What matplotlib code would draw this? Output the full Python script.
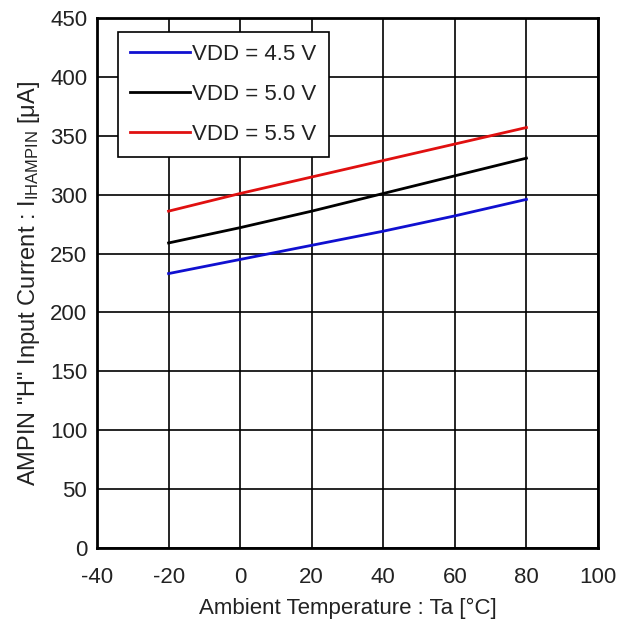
import matplotlib
matplotlib.use("Agg")
import matplotlib.pyplot as plt

plt.rcParams["font.family"] = ["Liberation Sans", "DejaVu Sans"]
plt.rcParams["mathtext.fontset"] = "custom"
plt.rcParams["mathtext.rm"] = "Liberation Sans"
plt.rcParams["mathtext.it"] = "Liberation Sans:italic"
plt.rcParams["axes.unicode_minus"] = False

temps = [-20, 0, 20, 40, 60, 80]
vdd_45 = [233, 245, 257, 269, 282, 296]
vdd_50 = [259, 272, 286, 301, 316, 331]
vdd_55 = [286, 301, 315, 329, 343, 357]

series = [
    ("VDD = 4.5 V", vdd_45, "#1010d0"),
    ("VDD = 5.0 V", vdd_50, "#000000"),
    ("VDD = 5.5 V", vdd_55, "#e01010"),
]

fig = plt.figure(figsize=(6.4, 6.27), dpi=100)
ax = fig.add_axes([97 / 640, 79 / 627, 501 / 640, 530 / 627])

for label, vals, color in series:
    ax.plot(temps, vals, color=color, lw=2, label=label)

ax.set_xlim(-40, 100)
ax.set_ylim(0, 450)
ax.set_xticks(range(-40, 101, 20))
ax.set_yticks(range(0, 451, 50))
ax.grid(True, color="black", lw=1.2)
ax.tick_params(length=0, labelsize=16, colors="#222222")
ax.tick_params(axis="x", pad=14)
ax.tick_params(axis="y", pad=7)
for s in ax.spines.values():
    s.set_linewidth(2)

ax.set_xlabel("Ambient Temperature : Ta [°C]", fontsize=16, color="#222222", labelpad=7)
ax.set_ylabel('AMPIN "H" Input Current : I$_{\\mathrm{IHAMPIN}}$ [μA]',
              fontsize=17, color="#222222", labelpad=6)

leg = ax.legend(loc="upper left", bbox_to_anchor=(21 / 501, 1 - 14 / 530),
                fontsize=16, frameon=True, fancybox=False, framealpha=1,
                edgecolor="black", handlelength=2.7, handletextpad=0.1,
                labelspacing=0.85, borderpad=0.55, borderaxespad=0)
leg.get_frame().set_linewidth(1.2)
for t in leg.get_texts():
    t.set_color("#222222")

fig.savefig("out.png", dpi=100)
